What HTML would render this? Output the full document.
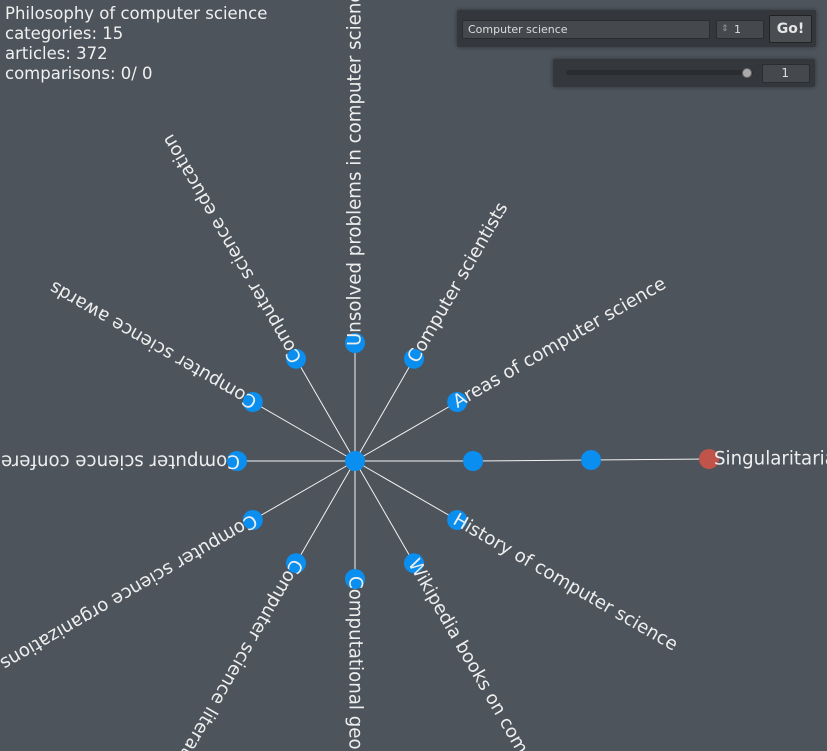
<!DOCTYPE html>
<html><head><meta charset="utf-8"><style>
html,body{margin:0;width:827px;height:751px;overflow:hidden;background:#4d545c;font-family:"DejaVu Sans","Liberation Sans",sans-serif;}
#info{position:absolute;left:5px;top:4px;color:#f0f0f0;font-size:16.5px;line-height:20px;}
.panel{position:absolute;background:#34383c;border-radius:2px;box-shadow:0 0 4px rgba(0,0,0,0.4);}
.field{position:absolute;background:#45494d;border:1px solid #2a2d30;border-radius:2px;color:#ddd;font-size:11px;line-height:17px;box-sizing:border-box;}
</style></head><body>
<div id="info">Philosophy of computer science<br>categories: 15<br>articles: 372<br>comparisons: 0/ 0</div>
<div class="panel" style="left:457px;top:10px;width:359px;height:37px;">
  <div class="field" style="left:5px;top:10px;width:248px;height:19px;padding-left:5px;">Computer science</div>
  <div class="field" style="left:259px;top:10px;width:48px;height:19px;text-align:right;padding-right:22px;"><span style="position:absolute;left:4px;top:0;color:#999;font-size:9px;">⇕</span>1</div>
  <div class="field" style="left:312px;top:5px;width:43px;height:28px;background:#4a4e52;border-color:#222;color:#e6e6e6;font-size:14px;line-height:26px;text-align:center;font-weight:bold;">Go!</div>
</div>
<div class="panel" style="left:553px;top:59px;width:262px;height:28px;">
  <div style="position:absolute;left:13px;top:11px;width:187px;height:5px;background:#2a2d30;border-radius:3px;"></div>
  <div style="position:absolute;left:189px;top:9px;width:10px;height:10px;border-radius:50%;background:#aaa;border:1px solid #666;box-sizing:border-box;"></div>
  <div class="field" style="left:209px;top:5px;width:48px;height:19px;text-align:right;padding-right:20px;font-size:12px;">1</div>
</div>
<svg id="g" width="827" height="751" style="position:absolute;left:0;top:0;overflow:hidden;"></svg>
<script>
const categories=["Unsolved problems in computer science","Computer scientists","Areas of computer science","","History of computer science","Wikipedia books on computer science","Computational geometry","Computer science literature","Computer science organizations","Computer science conferences","Computer science awards","Computer science education"];
const angles=[-90,-60,-30,0,30,60,90,120,150,180,210,240];
const chainLabels=["","Singularitarianism"];
const cx=355,cy=461,R=118;
const svg=document.getElementById('g');
const NS='http://www.w3.org/2000/svg';
function mk(t,a){const e=document.createElementNS(NS,t);for(const k in a)e.setAttribute(k,a[k]);svg.appendChild(e);return e;}
const lines=[],nodes=[],texts=[];
categories.forEach((c,i)=>{
  const a=angles[i]*Math.PI/180;
  const x=cx+R*Math.cos(a),y=cy+R*Math.sin(a);
  lines.push([cx,cy,x,y]);
  nodes.push([x,y,'#0a8ff0','category-node']);
  if(c)texts.push([x,y,angles[i],c,-3]);
});
let px=cx+R,py=cy;
chainLabels.forEach((c,j)=>{
  const x=px+R,y=py-1;
  lines.push([px,py,x,y]);
  nodes.push([x,y,j==chainLabels.length-1?'#c0534a':'#0a8ff0','chain-node']);
  if(c)texts.push([x,y,0,c,5]);
  px=x;py=y;
});
lines.forEach(l=>{const e=mk('line',{x1:l[0],y1:l[1],x2:l[2],y2:l[3],stroke:'#f2f2f2','stroke-width':1});

});
const c0=mk('circle',{cx:cx,cy:cy,r:10,fill:'#0a8ff0'});


nodes.forEach(n=>{const e=mk('circle',{cx:n[0],cy:n[1],r:10,fill:n[2]});

});
texts.forEach(t=>{const e=mk('text',{x:t[0]+t[4],y:t[1],fill:'#eeeeee','font-size':18.2,'dominant-baseline':'central','font-family':'DejaVu Sans, Liberation Sans, sans-serif',transform:`rotate(${t[2]} ${t[0]} ${t[1]})`});
e.textContent=t[3];

});
</script>
</body></html>
